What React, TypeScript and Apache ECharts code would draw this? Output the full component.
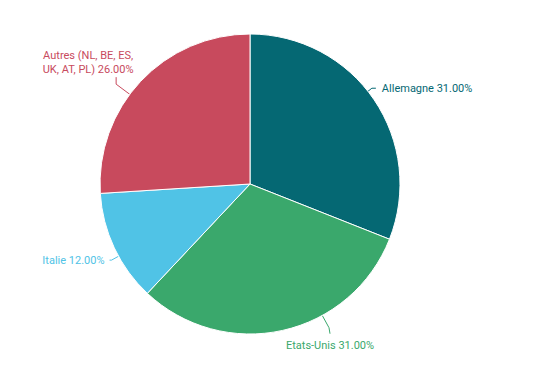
import React, { useEffect, useRef } from "react";
import * as echarts from "echarts";

const categories = ["Allemagne", "Etats-Unis", "Italie", "Autres (NL, BE, ES,\nUK, AT, PL)"];
const values = [31, 31, 12, 26];
const colors = ["#056873", "#3aa86c", "#50c3e6", "#c84a5d"];

// layout of the pie and of its label connectors
const CX = 250;
const CY = 184;
const R = 150;
const labelSpecs = [
  { pct: 14.4, len: 5, seg: [4, 0], text: [6, 0], align: "left", vAlign: "middle" },
  { pct: 42, len: 14, seg: [1, 6], text: [0, 5], align: "center", vAlign: "top" },
  { pct: 67, len: 8, seg: [-2, 0], text: [-5, 0], align: "right", vAlign: "middle" },
  { pct: 85.2, len: 17, seg: [0, -7], text: [-28, -1], align: "center", vAlign: "bottom" },
];

function polar(pct: number, r: number) {
  const a = (pct * 3.6 * Math.PI) / 180;
  return [CX + r * Math.sin(a), CY - r * Math.cos(a)];
}

export default function App() {
  const ref = useRef<HTMLDivElement>(null);
  useEffect(() => {
    if (!ref.current) return;
    const chart = echarts.init(ref.current, null, { renderer: "svg" });
    chart.setOption({
      animation: false,
      color: colors,
      series: [
        {
          type: "pie",
          center: [CX, CY],
          radius: R,
          startAngle: 90,
          clockwise: true,
          avoidLabelOverlap: false,
          data: categories.map((c, i) => ({
            name: c,
            value: values[i],
            label: { color: colors[i] },
          })),
          itemStyle: { borderColor: "#ffffff", borderWidth: 1 },
          label: {
            formatter: (p: any) => `${p.name} ${p.percent.toFixed(2)}%`,
            fontFamily: "Roboto",
            fontSize: 11,
            lineHeight: 14,
          },
          labelLine: { show: true, length: 8, length2: 4, lineStyle: { width: 1 } },
          labelLayout: (params: any) => {
            const s = labelSpecs[params.dataIndex];
            if (!s) return {};
            const p0 = polar(s.pct, R);
            const p1 = polar(s.pct, R + s.len);
            const p2 = [p1[0] + s.seg[0], p1[1] + s.seg[1]];
            return {
              x: p2[0] + s.text[0],
              y: p2[1] + s.text[1],
              align: s.align,
              verticalAlign: s.vAlign,
              labelLinePoints: [p0, p1, p2],
            };
          },
        },
      ],
    });
    return () => chart.dispose();
  }, []);
  return (
    <div
      ref={ref}
      style={{ position: "fixed", left: 0, top: 0, width: 537, height: 368, background: "#fff" }}
    />
  );
}
